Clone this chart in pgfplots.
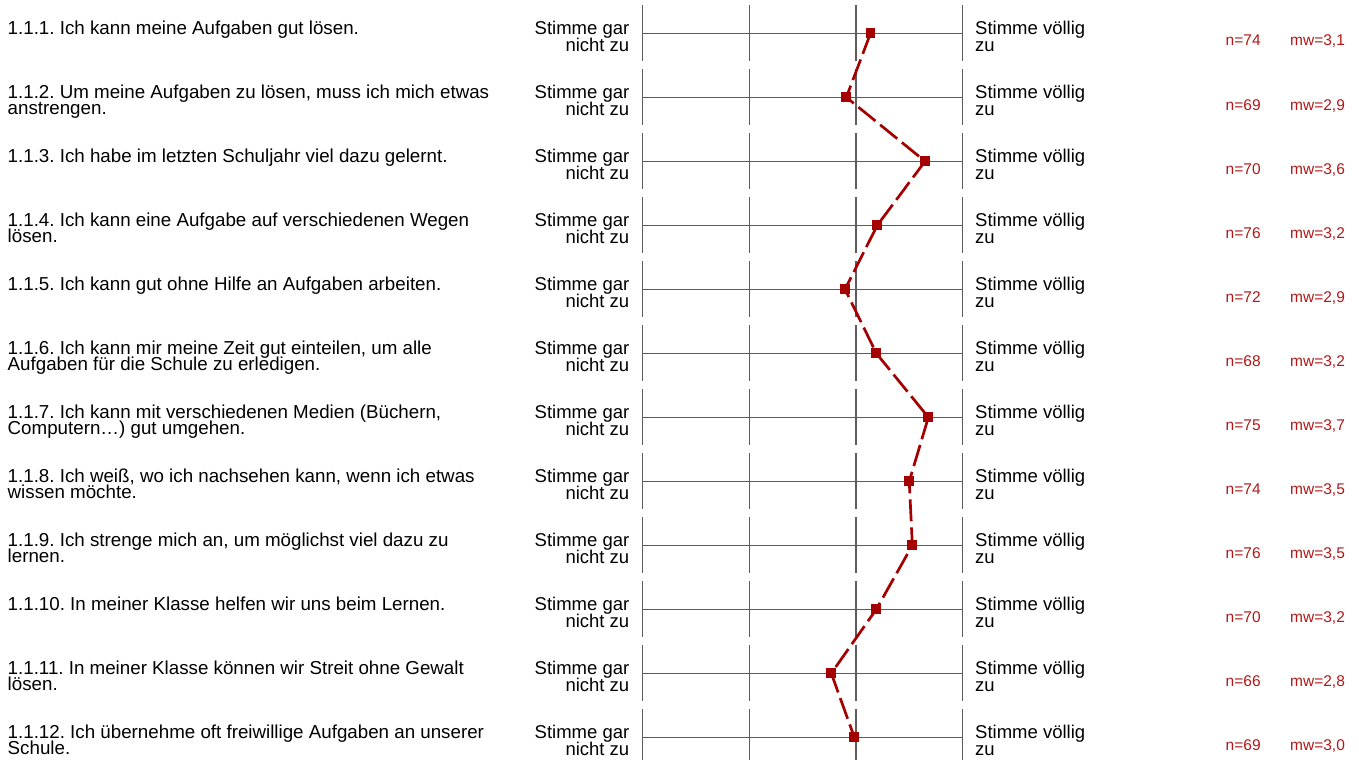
\documentclass[border=0pt]{standalone}
\usepackage{pgfplots}
\pgfplotsset{compat=1.18}
\usepackage{pgfplotstable}
\usepackage{fontspec}
\setmainfont{Liberation Sans}
\frenchspacing
\definecolor{dred}{RGB}{164,0,0}
\definecolor{tred}{RGB}{176,24,24}
\definecolor{gline}{RGB}{92,92,92}

\pgfplotstableread{
row mean
1  3.136
2  2.909
3  3.647
4  3.199
5  2.897
6  3.190
7  3.678
8  3.499
9  3.528
10 3.190
11 2.768
12 2.984
}\means

\tikzset{
  qtext/.style={font=\fontsize{18.75pt}{16pt}\selectfont, inner sep=0pt, text=black},
  ltext/.style={font=\fontsize{18.5pt}{17pt}\selectfont, inner sep=0pt, text=black},
  rtext/.style={font=\fontsize{15.5pt}{16pt}\selectfont, inner sep=0pt, text=tred},
  gl/.style={draw=gline, line width=1.5pt},
}

% #1 row, #2 first line, #3 second line, #4 n, #5 mw
\newcommand\qrow[5]{%
  \draw[gl] (axis cs:642.7,{33.3+64*(#1-1)}) -- (axis cs:962.7,{33.3+64*(#1-1)});
  \draw[gl] (axis cs:642.7,{33.3+64*(#1-1)-28}) -- (axis cs:642.7,{min(33.3+64*(#1-1)+28,760)});
  \draw[gl] (axis cs:749.3,{33.3+64*(#1-1)-28}) -- (axis cs:749.3,{min(33.3+64*(#1-1)+28,760)});
  \draw[gl] (axis cs:856.0,{33.3+64*(#1-1)-28}) -- (axis cs:856.0,{min(33.3+64*(#1-1)+28,760)});
  \draw[gl] (axis cs:962.7,{33.3+64*(#1-1)-28}) -- (axis cs:962.7,{min(33.3+64*(#1-1)+28,760)});
  \node[qtext, anchor=base west] at (axis cs:7.5,{33.3+64*(#1-1)+1.3}) {#2};
  \node[qtext, anchor=base west] at (axis cs:7.5,{33.3+64*(#1-1)+17.3}) {#3};
  \node[ltext, anchor=base east] at (axis cs:629.5,{33.3+64*(#1-1)+0.8}) {Stimme gar};
  \node[ltext, anchor=base east] at (axis cs:629.5,{33.3+64*(#1-1)+18.5}) {nicht zu};
  \node[ltext, anchor=base west] at (axis cs:975,{33.3+64*(#1-1)+0.8}) {Stimme völlig};
  \node[ltext, anchor=base west] at (axis cs:975,{33.3+64*(#1-1)+18.3}) {zu};
  \node[rtext, anchor=base west] at (axis cs:1225.5,{33.3+64*(#1-1)+12.7}) {n=#4};
  \node[rtext, anchor=base west] at (axis cs:1290,{33.3+64*(#1-1)+12.7}) {mw=#5};
}

\begin{document}
\begin{tikzpicture}
\useasboundingbox (0,0) rectangle (1359pt,760pt);
\begin{axis}[
  at={(0,0)}, anchor=south west,
  width=1359pt, height=760pt, scale only axis,
  xmin=0, xmax=1359, ymin=0, ymax=760,
  y dir=reverse, hide axis, clip=false,
]
\qrow{1}{1.1.1. Ich kann meine Aufgaben gut lösen.}{}{74}{3,1}
\qrow{2}{1.1.2. Um meine Aufgaben zu lösen, muss ich mich etwas}{anstrengen.}{69}{2,9}
\qrow{3}{1.1.3. Ich habe im letzten Schuljahr viel dazu gelernt.}{}{70}{3,6}
\qrow{4}{1.1.4. Ich kann eine Aufgabe auf verschiedenen Wegen}{lösen.}{76}{3,2}
\qrow{5}{1.1.5. Ich kann gut ohne Hilfe an Aufgaben arbeiten.}{}{72}{2,9}
\qrow{6}{1.1.6. Ich kann mir meine Zeit gut einteilen, um alle}{Aufgaben für die Schule zu erledigen.}{68}{3,2}
\qrow{7}{1.1.7. Ich kann mit verschiedenen Medien (Büchern,}{Computern…) gut umgehen.}{75}{3,7}
\qrow{8}{1.1.8. Ich weiß, wo ich nachsehen kann, wenn ich etwas}{wissen möchte.}{74}{3,5}
\qrow{9}{1.1.9. Ich strenge mich an, um möglichst viel dazu zu}{lernen.}{76}{3,5}
\qrow{10}{1.1.10. In meiner Klasse helfen wir uns beim Lernen.}{}{70}{3,2}
\qrow{11}{1.1.11. In meiner Klasse können wir Streit ohne Gewalt}{lösen.}{66}{2,8}
\qrow{12}{1.1.12. Ich übernehme oft freiwillige Aufgaben an unserer}{Schule.}{69}{3,0}

\addplot[color=dred, line width=2.7pt, dash pattern=on 22pt off 6pt,
  mark=square*, mark size=4.4pt,
  mark options={solid, line width=0pt, fill=dred, draw=dred}]
  table[x expr={642.7+(\thisrow{mean}-1)*106.667}, y expr={33.3+64*(\thisrow{row}-1)}] {\means};
\end{axis}
\end{tikzpicture}
\end{document}
